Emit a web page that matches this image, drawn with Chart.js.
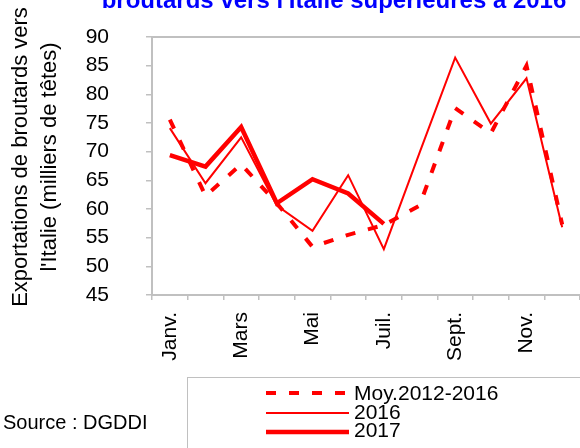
<!DOCTYPE html>
<html>
<head>
<meta charset="utf-8">
<script src="https://cdn.jsdelivr.net/npm/chart.js@4/dist/chart.umd.min.js"></script>
<style>
  html, body { margin: 0; padding: 0; background: #fff; }
  #wrap { width: 580px; height: 448px; }
</style>
</head>
<body>
<div id="wrap"><canvas id="chart" width="580" height="448"></canvas></div>
<script>
// data (milliers de têtes)
var months = ["Janv.", "Févr.", "Mars", "Avr.", "Mai", "Juin", "Juil.", "Août", "Sept.", "Oct.", "Nov.", "Déc."];
var moy20122016 = [75.6, 62.3, 67.8, 61.0, 53.4, 55.5, 57.2, 60.6, 77.6, 73.2, 85.0, 57.3];
var year2016 = [74.1, 64.5, 72.5, 60.6, 56.2, 65.9, 53.0, 69.8, 86.4, 74.9, 82.8, 56.8];
var year2017 = [69.4, 67.4, 74.3, 61.0, 65.2, 62.7, 57.4, null, null, null, null, null];
var yMin = 45, yMax = 90, yStep = 5;

var titleText = "broutards vers l'Italie supérieures à 2016";
var yTitle = ["Exportations de broutards vers", "l'Italie (milliers de têtes)"];
var sourceText = "Source : DGDDI";

var FONT = '"Liberation Sans", Arial, sans-serif';
var GREY = "#c0c0c0";
var RED = "#ff0000";

// plot frame top, title, y title, source and the framed legend are drawn by hand
var decor = {
  id: "decor",
  beforeDatasetsDraw: function (chart) {
    var ctx = chart.ctx, a = chart.chartArea;
    ctx.save();
    ctx.strokeStyle = GREY;
    ctx.lineWidth = 2;
    ctx.beginPath();
    ctx.moveTo(a.left, Math.round(a.top));
    ctx.lineTo(a.right, Math.round(a.top));
    ctx.stroke();
    ctx.restore();
  },
  afterDraw: function (chart) {
    var ctx = chart.ctx;
    ctx.save();

    ctx.fillStyle = "#0000ff";
    ctx.font = "bold 24px " + FONT;
    ctx.textAlign = "center";
    ctx.textBaseline = "alphabetic";
    ctx.fillText(titleText, 334, 7.5);

    ctx.fillStyle = "#000";
    ctx.font = "22px " + FONT;
    [27, 56].forEach(function (x, i) {
      ctx.save();
      ctx.translate(x, 157);
      ctx.rotate(-Math.PI / 2);
      ctx.fillText(yTitle[i], 0, 0);
      ctx.restore();
    });

    ctx.textAlign = "left";
    ctx.font = "20px " + FONT;
    ctx.fillText(sourceText, 3, 429);

    ctx.strokeStyle = GREY;
    ctx.lineWidth = 1;
    ctx.strokeRect(187.5, 377.5, 600, 200);

    var rows = [393, 413, 432];
    var baselines = [400, 418.5, 436.5];
    ctx.font = "21px " + FONT;
    chart.data.datasets.forEach(function (ds, i) {
      ctx.save();
      ctx.strokeStyle = ds.borderColor;
      ctx.lineWidth = ds.borderWidth;
      ctx.setLineDash(ds.borderDash || []);
      ctx.beginPath();
      ctx.moveTo(266, rows[i]);
      ctx.lineTo(349, rows[i]);
      ctx.stroke();
      ctx.restore();
      ctx.fillStyle = "#000";
      ctx.fillText(ds.label, 354, baselines[i]);
    });
    ctx.restore();
  }
};

new Chart(document.getElementById("chart"), {
  type: "line",
  data: {
    labels: months,
    datasets: [
      { label: "Moy.2012-2016", data: moy20122016, borderColor: RED, borderWidth: 4, borderDash: [10, 13] },
      { label: "2016", data: year2016, borderColor: RED, borderWidth: 2 },
      { label: "2017", data: year2017, borderColor: RED, borderWidth: 4.5 }
    ]
  },
  options: {
    responsive: false,
    animation: false,
    layout: { padding: { top: 37, left: 0, right: 0, bottom: 0 } },
    elements: {
      point: { radius: 0, hoverRadius: 0 },
      line: { tension: 0, borderCapStyle: "butt", borderJoinStyle: "miter" }
    },
    plugins: { legend: { display: false }, tooltip: { enabled: false } },
    scales: {
      x: {
        offset: true,
        grid: { offset: true, drawOnChartArea: false, color: GREY, lineWidth: 1.5, tickLength: 5 },
        border: { color: GREY, width: 2 },
        ticks: {
          autoSkip: false,
          minRotation: 90,
          maxRotation: 90,
          padding: 12,
          color: "#000",
          font: { family: FONT, size: 21 },
          callback: function (v, i) { return i % 2 ? "" : months[i]; }
        },
        afterFit: function (scale) {
          scale.height = 153;
          scale.paddingLeft = 0;
          scale.paddingRight = 0;
        }
      },
      y: {
        min: yMin,
        max: yMax,
        grid: { drawOnChartArea: false, color: GREY, lineWidth: 1.5, tickLength: 6 },
        border: { color: GREY, width: 2 },
        ticks: { autoSkip: false, stepSize: yStep, padding: 37, color: "#000", font: { family: FONT, size: 21 } },
        afterFit: function (scale) {
          scale.width = 152;
          scale.paddingTop = 0;
          scale.paddingBottom = 0;
        }
      }
    }
  },
  plugins: [decor]
});
</script>
</body>
</html>
